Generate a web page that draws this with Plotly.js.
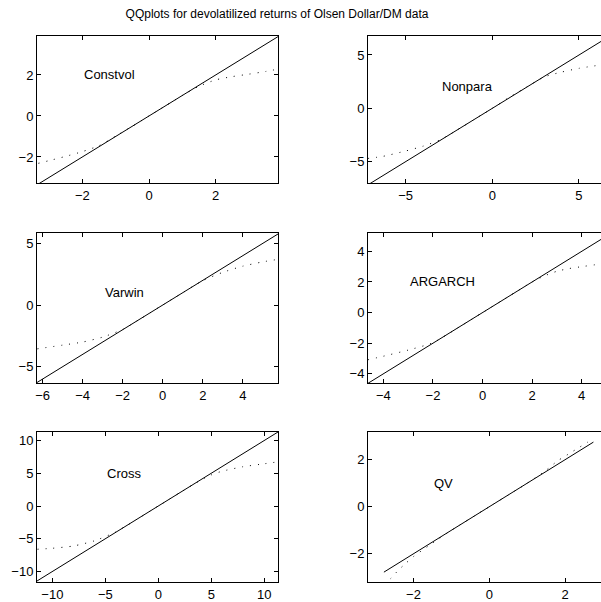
<!DOCTYPE html>
<html>
<head>
<meta charset="utf-8">
<script src="https://cdn.plot.ly/plotly-3.0.1.min.js"></script>
<style>html,body{margin:0;padding:0;background:#fff;}#chart{width:601px;height:602px;}</style>
</head>
<body>
<div id="chart"></div>
<script>
// ---- data ----
const panelNames = ["Constvol", "Nonpara", "Varwin", "ARGARCH", "Cross", "QV"];

const constvolX = [-3.32, -3.0, -2.5, -2.0, -1.5, -1.0, -0.5, 0, 0.5, 1.0, 1.5, 2.0, 2.5, 3.0, 3.5, 3.85];
const constvolY = [-2.31, -2.18, -1.97, -1.74, -1.45, -0.98, -0.5, 0, 0.5, 1.0, 1.45, 1.76, 1.92, 2.04, 2.17, 2.28];

const nonparaX = [-7.17, -6.3, -5, -4, -3, -2, -1, 0, 1, 2, 3, 4, 5, 6.27];
const nonparaY = [-4.7, -4.5, -4.0, -3.55, -2.95, -2.0, -1.0, 0, 1.05, 2.02, 2.95, 3.4, 3.75, 4.07];

const varwinX = [-6.26, -5, -4, -3, -2, -1, 0, 1, 2, 3, 4, 5, 5.74];
const varwinY = [-3.55, -3.25, -3.0, -2.6, -1.98, -1.0, 0, 1.0, 1.98, 2.65, 3.15, 3.5, 3.7];

const argarchX = [-4.62, -4, -3, -2, -1, 0, 1, 2, 2.5, 3, 3.5, 4, 4.78];
const argarchY = [-3.08, -2.85, -2.45, -1.97, -1.0, 0, 1.0, 2.0, 2.4, 2.7, 2.88, 3.0, 3.18];

const crossX = [-11.4, -10, -8, -6, -4, -2, 0, 2, 4, 5, 6, 8, 10, 11.33];
const crossY = [-6.6, -6.45, -6.1, -5.3, -3.95, -2.0, 0, 2.0, 3.95, 4.75, 5.3, 6.0, 6.45, 6.75];

const qvX = [-2.78, -2.6, -2.4, -2.2, -2.0, -1.5, -1, 0, 1, 1.5, 1.8, 2.0, 2.2, 2.4, 2.6, 2.75];
const qvY = [-3.25, -3.05, -2.7, -2.4, -2.12, -1.55, -1.0, 0, 1.0, 1.55, 1.95, 2.15, 2.35, 2.55, 2.75, 2.92];

// 45-degree reference line end points
const refConstvol = [-3.36, 3.9];
const refNonpara = [-7.17, 6.8];
const refVarwin = [-6.3, 5.84];
const refArgarch = [-4.62, 5.2];
const refCross = [-11.5, 11.33];
const refQV = [-2.78, 2.75];

// label anchor positions (data coords, from picture)
const labelX = [-2, -3, -3, -3, -5, -1.5];
const labelY = [2, 2, 1, 2, 5, 1];

const titleText = "QQplots for devolatilized returns of Olsen Dollar/DM data";

// ---- layout config ----
const qqX = [constvolX, nonparaX, varwinX, argarchX, crossX, qvX];
const qqY = [constvolY, nonparaY, varwinY, argarchY, crossY, qvY];
const refs = [refConstvol, refNonpara, refVarwin, refArgarch, refCross, refQV];

const W = 601, H = 602;
const colPx = [[37, 278], [368, 601]];
const rowPx = [[36, 183], [233, 383], [432, 582]];
const xRanges = [[-3.36, 3.87], [-7.17, 6.27], [-6.28, 5.76], [-4.62, 4.78], [-11.45, 11.3], [-3.2, 2.95]];
const yRanges = [[-3.27, 3.9], [-7.0, 6.78], [-6.32, 5.84], [-4.6, 5.2], [-11.6, 11.3], [-3.2, 3.18]];
const dticksX = [2, 5, 2, 2, 5, 2];
const dticksY = [2, 5, 5, 2, 5, 2];

const FONT = "Liberation Sans, Arial, Helvetica, sans-serif";
const traces = [];
const layout = {
  width: W, height: H,
  margin: {l: 0, r: 0, t: 0, b: 0},
  paper_bgcolor: "#fff", plot_bgcolor: "#fff",
  showlegend: false,
  font: {family: FONT, size: 13, color: "#000"},
  title: {text: titleText, x: 277 / W, y: 1 - 14 / H, xanchor: "center", yanchor: "middle",
          xref: "paper", yref: "container", font: {family: FONT, size: 12, color: "#000"}},
  annotations: []
};

for (let i = 0; i < 6; i++) {
  const col = i % 2, row = Math.floor(i / 2);
  const sfx = i === 0 ? "" : String(i + 1);
  const xa = "x" + sfx, ya = "y" + sfx;
  traces.push({
    x: refs[i], y: refs[i], xaxis: xa, yaxis: ya, mode: "lines", type: "scatter",
    line: {color: "#000", width: 1}, hoverinfo: "skip"
  });
  traces.push({
    x: qqX[i], y: qqY[i], xaxis: xa, yaxis: ya, mode: "lines", type: "scatter",
    line: {color: "#000", width: 1, dash: "1px,7px", shape: "spline", smoothing: 0.6}, hoverinfo: "skip"
  });
  const common = {
    showgrid: false, zeroline: false, showline: true, linecolor: "#000", linewidth: 1,
    ticks: "inside", ticklen: 4, tickcolor: "#000", tickwidth: 1,
    tickfont: {family: FONT, size: 13, color: "#000"}, fixedrange: true
  };
  layout["xaxis" + sfx] = Object.assign({}, common, {
    domain: [colPx[col][0] / W, colPx[col][1] / W], anchor: ya,
    range: xRanges[i], dtick: dticksX[i], tick0: 0, mirror: "ticks"
  });
  layout["yaxis" + sfx] = Object.assign({}, common, {
    domain: [1 - rowPx[row][1] / H, 1 - rowPx[row][0] / H], anchor: xa,
    range: yRanges[i], dtick: dticksY[i], tick0: 0, mirror: col === 0 ? "ticks" : false
  });
  layout.annotations.push({
    text: panelNames[i], x: labelX[i], y: labelY[i], xref: xa, yref: ya,
    xanchor: "left", yanchor: "middle", showarrow: false,
    font: {family: FONT, size: 13, color: "#000"}
  });
}

Plotly.newPlot("chart", traces, layout, {staticPlot: true, displayModeBar: false});
</script>
</body>
</html>
